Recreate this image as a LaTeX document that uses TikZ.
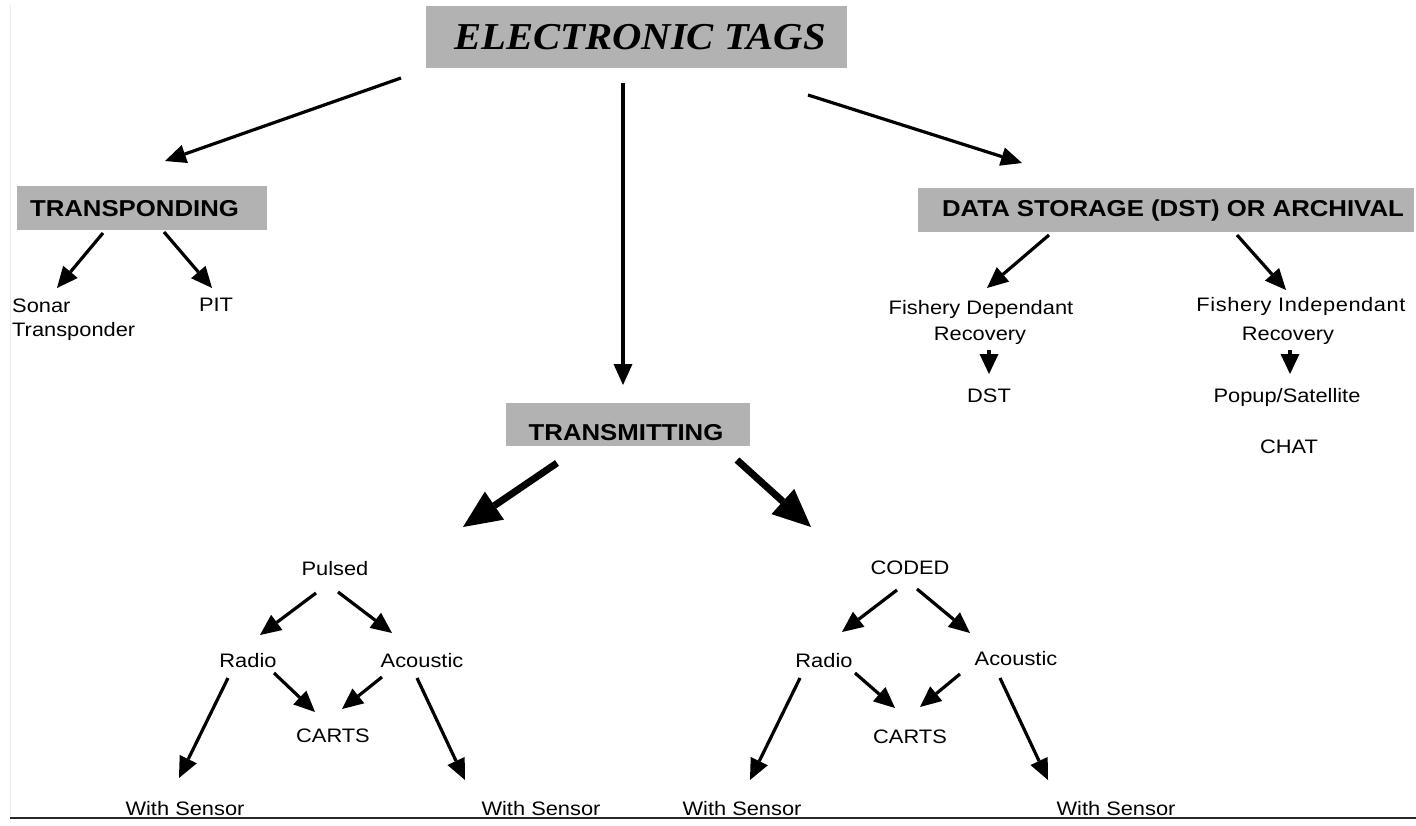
\documentclass[tikz,border=0pt]{standalone}
\usepackage{fontspec}
\setmainfont[FakeStretch=1.12]{Liberation Sans}
\newfontfamily\titlefont[FakeStretch=1.07]{Liberation Serif}
\usetikzlibrary{arrows.meta}
\definecolor{boxgray}{RGB}{178,178,178}
\definecolor{faint}{RGB}{236,236,236}
\definecolor{rule}{RGB}{40,40,40}
\tikzset{
  graybox/.style={fill=boxgray, draw=none, inner sep=0pt},
  lbl/.style={inner sep=0pt, anchor=base, font=\fontsize{19.5}{25}\selectfont},
  hdr/.style={inner sep=0pt, anchor=base, font=\bfseries\fontsize{23}{27}\selectfont},
  arr/.style={line width=3.2pt, -{Triangle[length=21pt,width=19pt,line width=0pt]}},
  smallarr/.style={line width=3.5pt, -{Triangle[length=20pt,width=19pt,line width=0pt]}},
  bigarr/.style={line width=7pt, -{Triangle[length=38pt,width=34pt,line width=0pt]}},
}
\begin{document}
\begin{tikzpicture}[x=1pt,y=-1pt]
\useasboundingbox (0,0) rectangle (1416,826);
% frame lines
\draw[faint, line width=1pt] (10,5) -- (10,818);
\draw[rule, line width=1.5pt] (10,818) -- (1416,818);

% boxes
\node[graybox, minimum width=421pt, minimum height=62pt] (titlebox) at (636.5,37) {};
\node[graybox, minimum width=250pt, minimum height=44pt] (tpbox) at (142,208) {};
\node[graybox, minimum width=496pt, minimum height=44pt] (dstbox) at (1166,210) {};
\node[graybox, minimum width=244pt, minimum height=43pt] (tmbox) at (628,424.5) {};

% headers
\node[inner sep=0pt, anchor=base, font=\titlefont\bfseries\itshape\fontsize{38}{40}\selectfont] (title) at (640,50) {ELECTRONIC TAGS};
\node[hdr] (tp) at (134.5,217) {TRANSPONDING};
\node[hdr] (dsth) at (1173,217) {DATA STORAGE (DST) OR ARCHIVAL};
\node[hdr] (tm) at (626,440) {TRANSMITTING};

% transponding leaves
\node[inner sep=0pt, anchor=north west, align=left, font=\fontsize{19.5}{24.5}\selectfont] (sonar) at (12,298.5) {Sonar\\Transponder};
\node[lbl] (pit) at (216,312) {PIT};

% DST leaves
\node[lbl] (fd1) at (981,314) {Fishery Dependant};
\node[lbl] (fd2) at (980,341) {Recovery};
\node[lbl] (dst) at (989,402) {DST};
\node[lbl, font=\addfontfeature{LetterSpace=3}\fontsize{19.5}{25}\selectfont] (fi1) at (1301,312) {Fishery Independant};
\node[lbl] (fi2) at (1288,340) {Recovery};
\node[lbl] (popup) at (1287,402) {Popup/Satellite};
\node[lbl] (chat) at (1289,453) {CHAT};

% transmitting tree
\node[lbl] (pulsed) at (335,575) {Pulsed};
\node[lbl] (radio1) at (248,667) {Radio};
\node[lbl] (acou1) at (422,667) {Acoustic};
\node[lbl] (carts1) at (333,742) {CARTS};
\node[lbl] (ws1) at (185,815) {With Sensor};
\node[lbl] (ws2) at (541,815) {With Sensor};

\node[lbl] (coded) at (910,574) {CODED};
\node[lbl] (radio2) at (824,667) {Radio};
\node[lbl] (acou2) at (1016,665) {Acoustic};
\node[lbl] (carts2) at (910,743) {CARTS};
\node[lbl] (ws3) at (742,815) {With Sensor};
\node[lbl] (ws4) at (1116,815) {With Sensor};

% top level arrows
\draw[arr] ([shift={(-235.5,41)}]titlebox.center) -- ([shift={(23,-47)}]tpbox.center);
\draw[arr] ([shift={(-13.5,46)}]titlebox.center) -- ([shift={(-5,-39.5)}]tmbox.center);
\draw[arr] ([shift={(171.5,58)}]titlebox.center) -- ([shift={(-144,-47)}]dstbox.center);

% transponding arrows
\draw[arr] ([shift={(-39,25)}]tpbox.center) -- ([shift={(45,-10.5)}]sonar.north west);
\draw[arr] ([shift={(22,24)}]tpbox.center) -- ([shift={(-4,-24)}]pit.base);

% DST arrows
\draw[arr] ([shift={(-117,25)}]dstbox.center) -- ([shift={(6,-26)}]fd1.base);
\draw[arr] ([shift={(71,25)}]dstbox.center) -- ([shift={(-15,-22)}]fi1.base);
\draw[smallarr] ([shift={(9,9)}]fd2.base) -- ([shift={(0,-28)}]dst.base);
\draw[smallarr] ([shift={(2,10)}]fi2.base) -- ([shift={(3,-28)}]popup.base);

% transmitting arrows
\draw[bigarr] ([shift={(-71,38.5)}]tmbox.center) -- ([shift={(128,-48)}]pulsed.base);
\draw[bigarr] ([shift={(109,35.5)}]tmbox.center) -- ([shift={(-99,-47)}]coded.base);

% pulsed tree
\draw[arr] ([shift={(-19,18)}]pulsed.base) -- ([shift={(12,-32)}]radio1.base);
\draw[arr] ([shift={(3,17)}]pulsed.base) -- ([shift={(-30,-34)}]acou1.base);
\draw[arr] ([shift={(26,6)}]radio1.base) -- ([shift={(-18,-30)}]carts1.base);
\draw[arr] ([shift={(-40,10)}]acou1.base) -- ([shift={(9,-33)}]carts1.base);
\draw[arr] ([shift={(-20,11)}]radio1.base) -- ([shift={(-6,-37)}]ws1.base);
\draw[arr] ([shift={(-5,11)}]acou1.base) -- ([shift={(-76,-35)}]ws2.base);

% coded tree
\draw[arr] ([shift={(-13,16)}]coded.base) -- ([shift={(18,-35)}]radio2.base);
\draw[arr] ([shift={(7,15)}]coded.base) -- ([shift={(-46,-32)}]acou2.base);
\draw[arr] ([shift={(31,6)}]radio2.base) -- ([shift={(-15,-35)}]carts2.base);
\draw[arr] ([shift={(-56,9)}]acou2.base) -- ([shift={(10,-36)}]carts2.base);
\draw[arr] ([shift={(-24,11)}]radio2.base) -- ([shift={(8,-35)}]ws3.base);
\draw[arr] ([shift={(-16,13)}]acou2.base) -- ([shift={(-68,-35)}]ws4.base);
\end{tikzpicture}
\end{document}
